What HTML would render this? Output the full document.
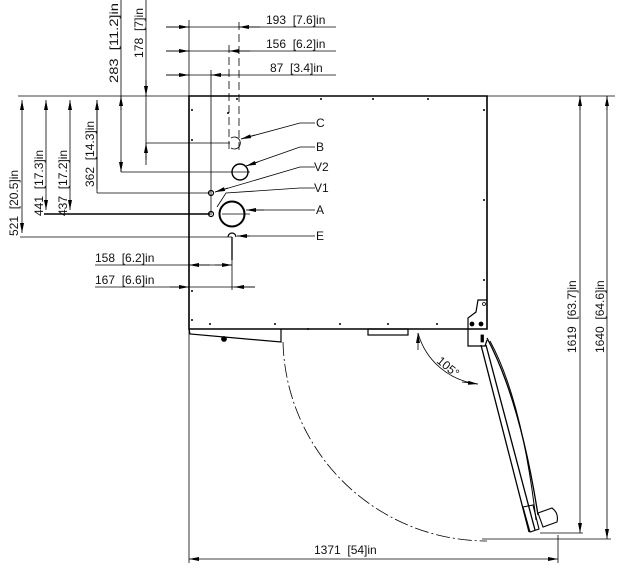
<!DOCTYPE html>
<html><head><style>
html,body{margin:0;padding:0;background:#fff;}
svg{display:block;}
text{font-family:"Liberation Sans",sans-serif;font-size:12px;fill:#111;white-space:pre;}
</style></head><body>
<svg width="619" height="573" viewBox="0 0 619 573" xmlns="http://www.w3.org/2000/svg" xml:space="preserve">
<defs>
<marker id="a" viewBox="0 0 10 4" refX="10" refY="2" markerWidth="12" markerHeight="4" markerUnits="userSpaceOnUse" orient="auto-start-reverse"><path d="M0,0 L10,2 L0,4z" fill="#000"/></marker>
</defs>
<g stroke="#000" fill="none" stroke-width="0.8">
<path d="M189,96 L487,96 L487,329 L189,329 Z" stroke-width="1.6"/>
<line x1="166" y1="27" x2="336" y2="27"/>
<line x1="166" y1="51" x2="336" y2="51"/>
<line x1="166" y1="75" x2="336" y2="75"/>
<line x1="189" y1="20" x2="189" y2="96"/>
<line x1="239" y1="22" x2="239" y2="150" stroke-dasharray="8,4"/>
<line x1="229" y1="45" x2="229" y2="150" stroke-dasharray="8,4"/>
<line x1="211" y1="70" x2="211" y2="215"/>
<line x1="166" y1="27" x2="189" y2="27" marker-end="url(#a)"/>
<line x1="260" y1="27" x2="239" y2="27" marker-end="url(#a)"/>
<line x1="166" y1="51" x2="189" y2="51" marker-end="url(#a)"/>
<line x1="250" y1="51" x2="229" y2="51" marker-end="url(#a)"/>
<line x1="166" y1="75" x2="189" y2="75" marker-end="url(#a)"/>
<line x1="230" y1="75" x2="211" y2="75" marker-end="url(#a)"/>
<line x1="18" y1="96" x2="189" y2="96"/>
<line x1="146" y1="143" x2="230" y2="143"/>
<line x1="121" y1="172" x2="250" y2="172"/>
<line x1="97" y1="193" x2="210" y2="193"/>
<line x1="44" y1="214" x2="210" y2="214" stroke-width="1.5"/>
<line x1="20" y1="237" x2="232" y2="237"/>
<line x1="22" y1="100" x2="22" y2="233" marker-start="url(#a)" marker-end="url(#a)"/>
<line x1="46" y1="100" x2="46" y2="210" marker-start="url(#a)" marker-end="url(#a)"/>
<line x1="70" y1="100" x2="70" y2="210" marker-start="url(#a)" marker-end="url(#a)"/>
<line x1="97" y1="100" x2="97" y2="189" marker-start="url(#a)"/>
<line x1="97" y1="100" x2="97" y2="193"/>
<line x1="121" y1="0" x2="121" y2="172"/>
<line x1="121" y1="110" x2="121" y2="96" marker-end="url(#a)"/>
<line x1="121" y1="160" x2="121" y2="172" marker-end="url(#a)"/>
<line x1="146" y1="0" x2="146" y2="165"/>
<line x1="146" y1="80" x2="146" y2="96" marker-end="url(#a)"/>
<line x1="146" y1="160" x2="146" y2="143" marker-end="url(#a)"/>
<line x1="95" y1="265" x2="232" y2="265"/>
<line x1="95" y1="287" x2="255" y2="287"/>
<line x1="232" y1="240" x2="232" y2="290"/>
<line x1="210" y1="265" x2="189" y2="265" marker-end="url(#a)"/>
<line x1="215" y1="265" x2="232" y2="265" marker-end="url(#a)"/>
<line x1="170" y1="287" x2="189" y2="287" marker-end="url(#a)"/>
<line x1="255" y1="287" x2="234" y2="287" marker-end="url(#a)"/>
<path d="M231,138 A6,6 0 1 1 231,148" />
<circle cx="240" cy="172" r="8" stroke-width="1.4"/>
<circle cx="211" cy="193" r="2.5" stroke-width="1.2"/>
<circle cx="211" cy="214" r="2.5" stroke-width="1.2"/>
<circle cx="232" cy="214" r="12.5" stroke-width="2"/>
<line x1="222" y1="214" x2="250" y2="214"/>
<path d="M228,237 A4,4 0 1 1 236,237" stroke-width="1.2"/>
<line x1="232" y1="237" x2="232" y2="260" stroke-width="1.3"/>
<polyline points="315,123 300,123 241,139" /><line x1="255" y1="135" x2="241" y2="139" marker-end="url(#a)"/>
<polyline points="315,147 300,147 246,166" /><line x1="258" y1="162" x2="246" y2="166" marker-end="url(#a)"/>
<polyline points="315,167 300,167 215,192" /><line x1="228" y1="188" x2="215" y2="192" marker-end="url(#a)"/>
<polyline points="315,188 300,188 226,193 217,207" />
<polyline points="315,210 252,210" /><line x1="264" y1="210" x2="246" y2="210" marker-end="url(#a)"/>
<polyline points="315,236 237,236" /><line x1="250" y1="236" x2="237" y2="236" marker-end="url(#a)"/>
<polyline points="189,329 190,334 281,342 281,329" stroke-width="1.2"/>
<circle cx="224" cy="339" r="2.5" fill="#000"/>
<rect x="368" y="329" width="40" height="6" stroke-width="1.2"/>
<path d="M487,300 L478,300 L476,312 L468,318 L468,346 L485,346 L487,340" stroke-width="1.2"/>
<circle cx="472" cy="324" r="2" fill="#000"/><circle cx="481" cy="324" r="2" fill="#000"/>
<circle cx="484" cy="304" r="1.5"/>
<rect x="481" y="335" width="2.5" height="7" fill="#000"/>
<line x1="481" y1="345" x2="529" y2="532" stroke-width="1.3"/>
<line x1="486" y1="345" x2="535" y2="530" stroke-width="1.3"/>
<path d="M487,338 Q520,400 538,515" stroke-width="1.3"/>
<path d="M490,341 Q522,400 536,520" stroke-width="1"/>
<path d="M523,507 L533,505 L539,529 L530,532 Z" stroke-width="1.1"/>
<path d="M538,513 L552,508 Q559,513 557,522 L543,527 Z" stroke-width="1.1"/>
<path d="M283,342 A204,204 0 0 0 487,541" stroke-dasharray="14,3,2,3"/>
<path d="M418,333 A70,70 0 0 0 478,384"/>
<line x1="418" y1="350" x2="418" y2="333" marker-end="url(#a)"/>
<line x1="462" y1="382" x2="478" y2="384" marker-end="url(#a)"/>
<line x1="487" y1="96" x2="615" y2="96"/>
<line x1="540" y1="533" x2="583" y2="533"/>
<line x1="482" y1="539" x2="611" y2="539"/>
<line x1="580" y1="96" x2="580" y2="533" marker-end="url(#a)"/>
<line x1="607" y1="96" x2="607" y2="539" marker-end="url(#a)"/>
<line x1="580" y1="110" x2="580" y2="96" marker-end="url(#a)"/>
<line x1="607" y1="110" x2="607" y2="96" marker-end="url(#a)"/>
<line x1="189" y1="329" x2="189" y2="563"/>
<line x1="558" y1="535" x2="558" y2="563"/>
<line x1="189" y1="559" x2="558" y2="559" marker-start="url(#a)" marker-end="url(#a)"/>
</g>
<g fill="#000">
<circle cx="192" cy="110" r="1"/><circle cx="237" cy="99" r="1"/><circle cx="321" cy="99" r="1"/><circle cx="228" cy="113" r="1"/><circle cx="192" cy="140" r="1"/><circle cx="373" cy="99" r="1"/><circle cx="428" cy="99" r="1"/><circle cx="484" cy="110" r="1"/><circle cx="484" cy="200" r="1"/><circle cx="484" cy="280" r="1"/>
<circle cx="192" cy="291" r="1"/><circle cx="210" cy="324" r="1"/><circle cx="275" cy="324" r="1"/><circle cx="340" cy="324" r="1"/><circle cx="388" cy="324" r="1"/><circle cx="437" cy="324" r="1"/><circle cx="308" cy="329" r="1"/><circle cx="192" cy="320" r="1"/>
</g>
<g>
<text x="266" y="24">193  [7.6]in</text>
<text x="266" y="48">156  [6.2]in</text>
<text x="270" y="72">87  [3.4]in</text>
<text x="95" y="262">158  [6.2]in</text>
<text x="95" y="284">167  [6.6]in</text>
<text x="316" y="127">C</text><text x="316" y="151">B</text><text x="314" y="171">V2</text><text x="314" y="192">V1</text><text x="316" y="214">A</text><text x="316" y="240">E</text>
<text x="314" y="554">1371  [54]in</text>
<text transform="translate(18,236) rotate(-90)">521  [20.5]in</text>
<text transform="translate(43,216) rotate(-90)">441  [17.3]in</text>
<text transform="translate(67,216) rotate(-90)">437  [17.2]in</text>
<text transform="translate(94,187) rotate(-90)">362  [14.3]in</text>
<text transform="translate(118,83) rotate(-90)" textLength="80" lengthAdjust="spacingAndGlyphs">283  [11.2]in</text>
<text transform="translate(143,58) rotate(-90)" textLength="50" lengthAdjust="spacingAndGlyphs">178  [7]in</text>
<text transform="translate(576,353) rotate(-90)">1619  [63.7]in</text>
<text transform="translate(604,353) rotate(-90)">1640  [64.6]in</text>
<text transform="translate(436,362) rotate(40)">105°</text>
</g>
</svg>
</body></html>
